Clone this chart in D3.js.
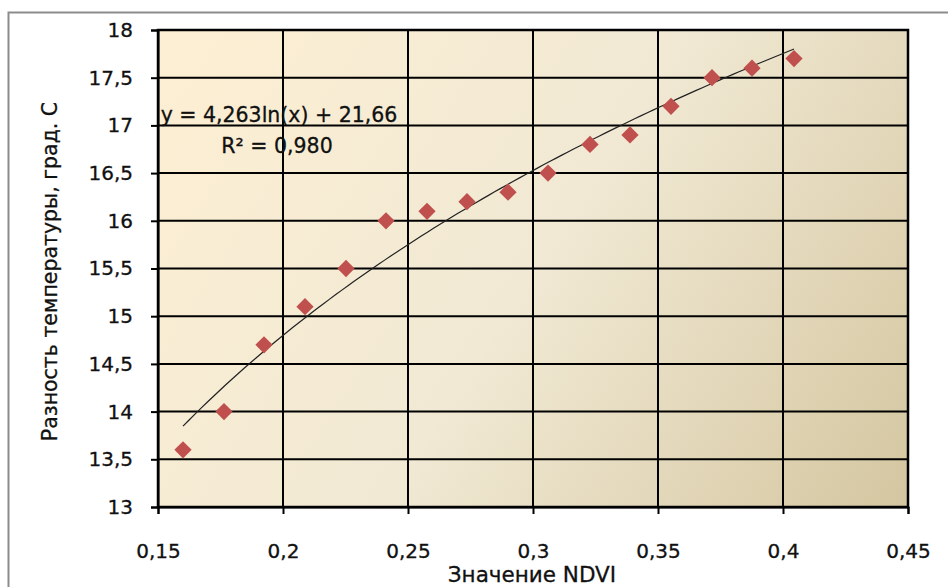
<!DOCTYPE html>
<html>
<head>
<meta charset="utf-8">
<script src="https://cdn.jsdelivr.net/npm/d3@7"></script>
<style>
  html, body { margin: 0; padding: 0; background: #fff; }
  svg { display: block; font-family: "DejaVu Sans", sans-serif; }
  text { stroke: #111; stroke-width: 0.3px; }
</style>
</head>
<body>
<svg id="chart" width="948" height="587"></svg>
<script>
// NDVI values and the temperature difference measured for each
const ndvi = [0.160, 0.1764, 0.1924, 0.2088, 0.2252, 0.2412, 0.2576, 0.2736,
              0.290, 0.306, 0.3228, 0.3388, 0.3552, 0.3716, 0.3876, 0.4044];
const tempDiff = [13.6, 14.0, 14.7, 15.1, 15.5, 16.0, 16.1, 16.2,
                  16.3, 16.5, 16.8, 16.9, 17.2, 17.5, 17.6, 17.7];

// Logarithmic trend: y = a*ln(x) + b
const trendA = 4.263;
const trendB = 21.66;
const trendR2 = "0,980";

const xTicks = [0.15, 0.2, 0.25, 0.3, 0.35, 0.4, 0.45];
const yTicks = [13, 13.5, 14, 14.5, 15, 15.5, 16, 16.5, 17, 17.5, 18];

const xTitle = "Значение NDVI";
const yTitle = "Разность температуры, град. С";

const FONT = "\"DejaVu Sans\", sans-serif";
const svg = d3.select("#chart");
const plot = { left: 158, top: 30, right: 908, bottom: 507 };

const x = d3.scaleLinear().domain([0.15, 0.45]).range([plot.left, plot.right]);
const y = d3.scaleLinear().domain([13, 18]).range([plot.bottom, plot.top]);

const fmt = d => String(d).replace(".", ",");

// Outer chart frame
svg.append("rect")
  .attr("x", 8.5).attr("y", 12.5)
  .attr("width", 960).attr("height", 600)
  .attr("fill", "none").attr("stroke", "#8c8c8c").attr("stroke-width", 2);

// Plot-area background gradient
const defs = svg.append("defs");
const grad = defs.append("linearGradient")
  .attr("id", "plotBg")
  .attr("gradientUnits", "userSpaceOnUse")
  .attr("x1", plot.left).attr("y1", plot.top)
  .attr("x2", plot.right).attr("y2", plot.bottom);
grad.append("stop").attr("offset", "0%").attr("stop-color", "#fdefd3");
grad.append("stop").attr("offset", "50%").attr("stop-color", "#f1e9d4");
grad.append("stop").attr("offset", "100%").attr("stop-color", "#d4c6a0");

svg.append("rect")
  .attr("x", plot.left).attr("y", plot.top)
  .attr("width", plot.right - plot.left).attr("height", plot.bottom - plot.top)
  .attr("fill", "url(#plotBg)");

// Gridlines
const grid = svg.append("g").attr("stroke", "#000").attr("stroke-width", 2);
grid.selectAll("line.v").data(xTicks).join("line")
  .attr("x1", d => x(d)).attr("x2", d => x(d))
  .attr("y1", plot.top).attr("y2", plot.bottom);
grid.selectAll("line.h").data(yTicks).join("line")
  .attr("x1", plot.left).attr("x2", plot.right)
  .attr("y1", d => y(d)).attr("y2", d => y(d));

// Axes
const xAxis = svg.append("g")
  .attr("transform", `translate(0,${plot.bottom})`)
  .call(d3.axisBottom(x).tickValues(xTicks).tickFormat(fmt).tickSize(7).tickPadding(30));
const yAxis = svg.append("g")
  .attr("transform", `translate(${plot.left},0)`)
  .call(d3.axisLeft(y).tickValues(yTicks).tickFormat(fmt).tickSize(7).tickPadding(18));

[xAxis, yAxis].forEach(g => {
  g.attr("font-family", FONT).attr("font-size", 20);
  g.selectAll(".domain").attr("stroke", "#000").attr("stroke-width", 2);
  g.selectAll(".tick line").attr("stroke", "#000").attr("stroke-width", 2);
  g.selectAll(".tick text").attr("fill", "#111");
});

// Plot border
svg.append("rect")
  .attr("x", plot.left).attr("y", plot.top)
  .attr("width", plot.right - plot.left).attr("height", plot.bottom - plot.top)
  .attr("fill", "none").attr("stroke", "#000").attr("stroke-width", 2.5);

// Trend line
const trendX = d3.range(0, 101).map(i => ndvi[0] + (ndvi[ndvi.length - 1] - ndvi[0]) * i / 100);
svg.append("path")
  .datum(trendX)
  .attr("fill", "none")
  .attr("stroke", "#222")
  .attr("stroke-width", 1.2)
  .attr("d", d3.line().x(d => x(d)).y(d => y(trendA * Math.log(d) + trendB)));

// Data markers
const diamond = d3.symbol().type(d3.symbolDiamond2).size(190);
svg.append("g").selectAll("path").data(ndvi).join("path")
  .attr("transform", (d, i) => `translate(${x(d)},${y(tempDiff[i])})`)
  .attr("d", diamond)
  .attr("fill", "#c0504d");

// Trend equation label
const eq = svg.append("g")
  .attr("font-family", FONT)
  .attr("font-size", 20.5)
  .attr("fill", "#111")
  .attr("text-anchor", "middle");
eq.append("text")
  .attr("x", 279).attr("y", 122)
  .text(`y = ${fmt(trendA)}ln(x) + ${fmt(trendB)}`);
eq.append("text")
  .attr("x", 277).attr("y", 153)
  .text(`R² = ${trendR2}`);

// Axis titles
svg.append("text")
  .attr("x", 532).attr("y", 582)
  .attr("text-anchor", "middle")
  .attr("font-family", FONT)
  .attr("font-size", 21.5)
  .attr("fill", "#111")
  .text(xTitle);
svg.append("text")
  .attr("transform", `translate(57,${(plot.top + plot.bottom) / 2 + 3}) rotate(-90)`)
  .attr("text-anchor", "middle")
  .attr("font-family", FONT)
  .attr("font-size", 20.5)
  .attr("fill", "#111")
  .text(yTitle);
</script>
</body>
</html>
